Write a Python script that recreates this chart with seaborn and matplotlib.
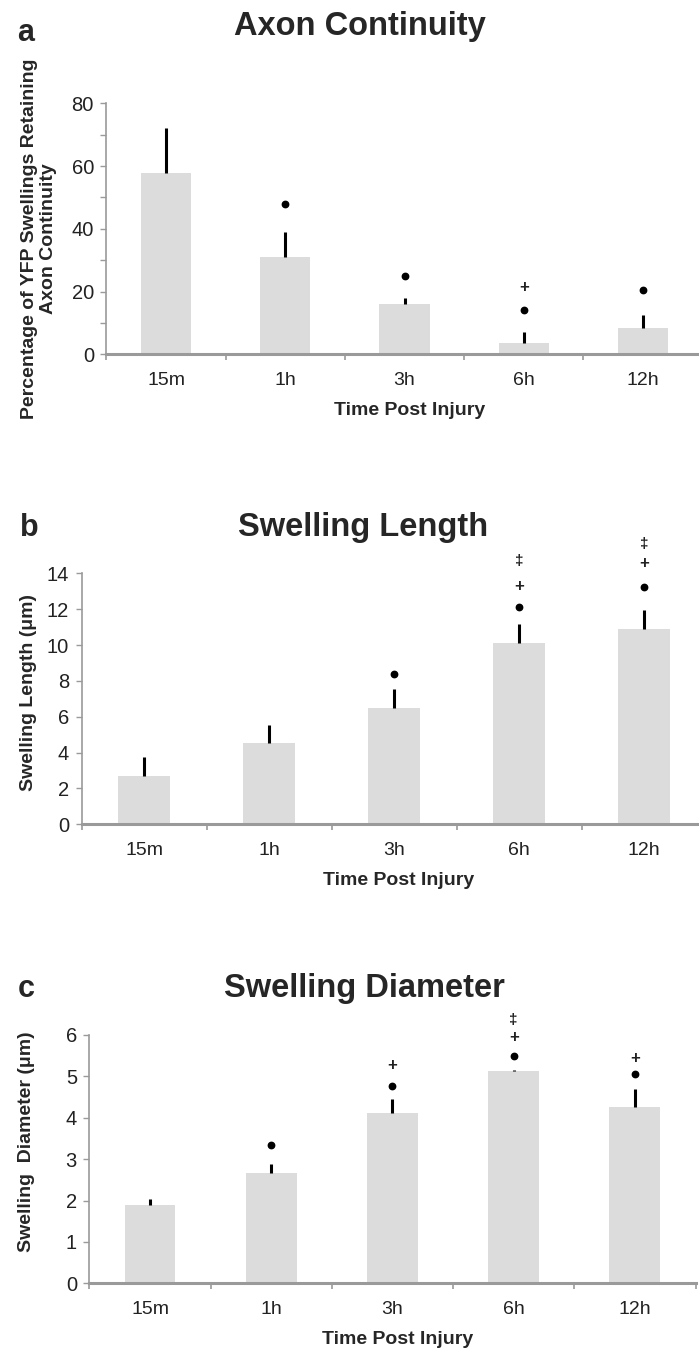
import matplotlib
matplotlib.use("Agg")
import matplotlib.pyplot as plt
import seaborn as sns
import numpy as np

# ---------------- data ----------------
categories = ["15m", "1h", "3h", "6h", "12h"]

a_means = [57.9, 31.1, 16.0, 3.7, 8.3]
a_err = [14.3, 7.8, 2.1, 3.5, 4.2]
a_marks_cat = [1, 2, 3, 3, 4]
a_marks_y = [47.9, 25.0, 14.1, 21.4, 20.5]
a_marks_sym = ["dot", "dot", "dot", "+", "dot"]

b_means = [2.70, 4.52, 6.51, 10.13, 10.88]
b_err = [1.04, 1.02, 1.04, 1.05, 1.08]
b_marks_cat = [2, 3, 3, 3, 4, 4, 4]
b_marks_y = [8.39, 12.12, 13.25, 14.70, 13.25, 14.56, 15.62]
b_marks_sym = ["dot", "dot", "+", "‡", "dot", "+", "‡"]

c_means = [1.89, 2.67, 4.12, 5.13, 4.27]
c_err = [0.15, 0.21, 0.33, 0.02, 0.42]
c_marks_cat = [1, 2, 2, 3, 3, 3, 4, 4]
c_marks_y = [3.33, 4.77, 5.26, 5.50, 5.94, 6.37, 5.05, 5.43]
c_marks_sym = ["dot", "dot", "+", "dot", "+", "‡", "dot", "+"]

# ---------------- style ----------------
sns.set_style("white")
plt.rcParams["font.family"] = ["Liberation Sans", "DejaVu Sans"]

W, H = 699, 1353
fig = plt.figure(figsize=(W / 100, H / 100), dpi=100)

BAR = "#dcdcdc"
SPINE = "#9a9a9a"


def px_rect(left, right, top, bottom):
    return [left / W, 1 - bottom / H, (right - left) / W, (bottom - top) / H]


def panel(rect, means, err, ylim, major, minor, mcat, my, msym,
          ylabel, ylab_xy, letter, letter_xy, title, title_xy, xlab_y):
    ax = fig.add_axes(rect)
    sns.barplot(x=categories, y=means, color=BAR, saturation=1, width=0.42,
                errorbar=None, ax=ax, linewidth=0)
    pos = np.arange(len(categories))
    ax.errorbar(pos, means, yerr=[np.zeros(len(err)), err], fmt="none",
                ecolor="black", elinewidth=2.2, capsize=0)
    for c, y, s in zip(mcat, my, msym):
        if s == "dot":
            ax.plot([c], [y], "o", color="black", markersize=4.6, clip_on=False)
        else:
            ax.text(c, y, s, ha="center", va="center",
                    fontsize=12 if s == "+" else 11,
                    fontweight="bold", color="#222222", clip_on=False)
    ax.set_xlim(-0.5, len(categories) - 0.5)
    ax.set_ylim(*ylim)
    ax.set_yticks(major)
    if minor is not None:
        ax.set_yticks(minor, minor=True)
    ax.set_xticks(np.arange(-0.5, len(categories) - 0.4, 1.0), minor=True)
    ax.tick_params(axis="x", which="major", length=0, pad=13,
                   labelsize=14, labelcolor="#222222")
    ax.tick_params(axis="x", which="minor", length=4, width=1.2,
                   color=SPINE, direction="out", bottom=True)
    ax.tick_params(axis="y", which="both", length=4, width=1.0, color=SPINE,
                   direction="out", left=True, pad=5, labelsize=14.5,
                   labelcolor="#222222")
    for sp in ["top", "right"]:
        ax.spines[sp].set_visible(False)
    ax.spines["left"].set_color(SPINE)
    ax.spines["left"].set_linewidth(1.2)
    ax.spines["bottom"].set_color(SPINE)
    ax.spines["bottom"].set_linewidth(2.2)
    ax.set_xlabel("Time Post Injury", fontsize=14, fontweight="bold",
                  ha="center", va="center")
    ax.xaxis.set_label_coords(0.508, xlab_y)
    ax.set_ylabel(ylabel, fontsize=14, fontweight="bold", ha="center",
                  va="center", linespacing=1.2)
    ax.yaxis.set_label_coords(*ylab_xy)
    fig.text(letter_xy[0] / W, 1 - letter_xy[1] / H, letter, fontsize=22,
             fontweight="bold", ha="left", va="baseline")
    fig.text(title_xy[0] / W, 1 - title_xy[1] / H, title, fontsize=23.5,
             fontweight="bold", ha="center", va="baseline")
    return ax


panel(px_rect(106.4, 702.6, 103.3, 354.3), a_means, a_err, (0, 80),
      [0, 20, 40, 60, 80], [10, 30, 50, 70], a_marks_cat, a_marks_y, a_marks_sym,
      "Percentage of YFP Swellings Retaining\nAxon Continuity", (-0.113, 0.46),
      "a", (17, 41), "Axon Continuity", (360, 35), -0.223)

panel(px_rect(81.5, 706.7, 573.3, 824.3), b_means, b_err, (0, 14),
      list(range(0, 15, 2)), None, b_marks_cat, b_marks_y, b_marks_sym,
      "Swelling Length (μm)", (-0.084, 0.525),
      "b", (20, 536), "Swelling Length", (363, 536), -0.222)

panel(px_rect(89.4, 695.5, 1035, 1283.3), c_means, c_err, (0, 6),
      list(range(0, 7)), None, c_marks_cat, c_marks_y, c_marks_sym,
      "Swelling  Diameter (μm)", (-0.103, 0.57),
      "c", (18, 997), "Swelling Diameter", (364, 997), -0.228)

fig.savefig("out.png", dpi=100)
